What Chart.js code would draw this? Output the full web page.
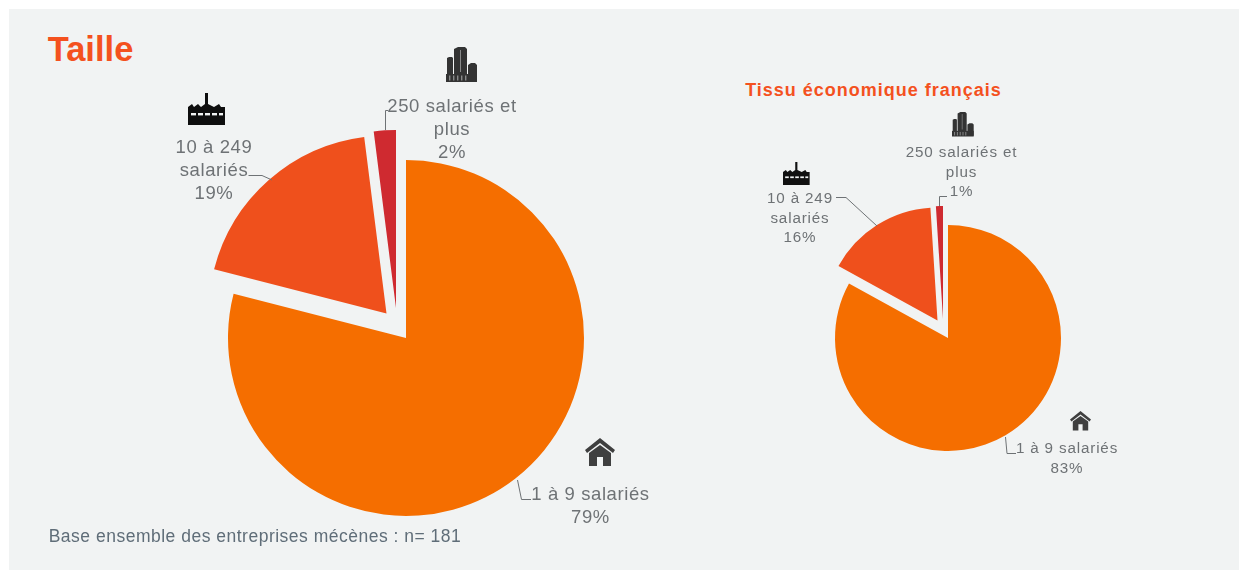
<!DOCTYPE html>
<html><head><meta charset="utf-8">
<script src="https://cdn.jsdelivr.net/npm/chart.js@4"></script>
<style>
html,body{margin:0;padding:0;background:#fff;overflow:hidden}
#panel{position:absolute;left:9px;top:9px;width:1230px;height:561px;background:#f1f3f3}
.c{position:absolute}
.t{position:absolute;text-align:center;white-space:nowrap;font-family:"Liberation Sans",Arial,sans-serif;color:#6e7275;transform:translateX(-50%)}
.big{font-size:18.5px;line-height:23px;letter-spacing:.6px}
.small{font-size:15.2px;line-height:19.5px;letter-spacing:.85px}
svg{position:absolute;left:0;top:0}
</style></head><body>
<div id="panel"></div>
<div class="c" style="left:6px;top:106px;width:800px;height:464px"><canvas id="a" width="800" height="464"></canvas></div>
<div class="c" style="left:657px;top:106px;width:582px;height:464px"><canvas id="b" width="582" height="464"></canvas></div>
<div id="texts"></div>
<svg id="ov" width="1239" height="570" viewBox="0 0 1239 570">
<defs>
<g id="house"><path d="M0 12 L15 0 L30 12 L28 15 L15 5 L2 15 Z"/><path d="M4 15 L15 7 L26 15 V28 H18 V19 H12 V28 H4 Z"/></g>
<g id="factory"><path d="M0 32 V14 L4 11 L6 14 L10 11 L13 14 L17 11 V0 H20 V11 L26 14 L31 11 L33 14 H37 V32 Z"/><g fill="#f1f3f3"><rect x="3" y="20" width="5" height="2.4"/><rect x="10" y="20" width="5" height="2.4"/><rect x="17" y="20" width="5" height="2.4"/><rect x="24" y="20" width="5" height="2.4"/><rect x="31" y="20" width="4" height="2.4"/></g></g>
<g id="towers"><path d="M1 27 V11 L3 10 H6 L7 11 V27 Z"/><path d="M8 34 V2 L12 0 H19 L21 2 V34 Z"/><path d="M22 34 V18 L25 16 H29 L31 18 V34 Z"/><path d="M0 27 H31 V35 H0 Z"/><g fill="#f1f3f3" opacity=".45"><rect x="3" y="28.500" width="1.4" height="5"/><rect x="7" y="28.500" width="1.4" height="5"/><rect x="11" y="28.500" width="1.4" height="5"/><rect x="15" y="28.500" width="1.4" height="5"/><rect x="19" y="28.500" width="1.4" height="5"/><rect x="14" y="3" width="1" height="22"/></g></g>
</defs>
<g fill="none" stroke="#6e7275" stroke-width="1">
<path d="M248.500 175.500 H262 L272 180"/>
<path d="M385.500 130 V110.500 H388"/>
<path d="M517.500 480 L521.500 499.500 H531"/>
<path d="M836 197.500 H846 L877 226"/>
<path d="M939.500 206 V196.500 H947"/>
<path d="M1005.500 437 L1007 453.500 H1016"/>
</g>
<use href="#factory" x="188" y="93" fill="#0e0e0e"/>
<use href="#towers" x="446" y="47" fill="#333"/>
<use href="#house" x="585" y="438" fill="#3f3f3f"/>
<use href="#factory" transform="translate(783 162) scale(.72)" fill="#111"/>
<use href="#towers" transform="translate(952 112) scale(.7)" fill="#333"/>
<use href="#house" transform="translate(1070 411) scale(.7)" fill="#3f3f3f"/>
</svg>
<script>
const categories = ["1 à 9 salariés", "10 à 249 salariés", "250 salariés et plus"];
const mecenes = [79, 19, 2];
const tissu = [83, 16, 1];
const colours = ["#f56e00", "#ef501c", "#cf2a30"];
const titleMain = "Taille";
const titleSide = "Tissu économique français";
const note = "Base ensemble des entreprises mécènes : n= 181";

// moves each exploded slice by its own pixel shift
const shiftSlices = {
  id: "shiftSlices",
  afterDatasetsUpdate(chart, args, opts) {
    chart.getDatasetMeta(0).data.forEach((arc, i) => {
      const s = opts.shifts[i];
      arc.x += s[0];
      arc.y += s[1];
    });
  }
};
function pie(id, values, radius, shifts) {
  new Chart(document.getElementById(id), {
    type: "pie",
    data: { labels: categories, datasets: [{ data: values, backgroundColor: colours, borderWidth: 0, radius: radius }] },
    options: {
      responsive: false, animation: false, events: [],
      layout: { padding: 0 },
      plugins: { legend: { display: false }, tooltip: { enabled: false }, shiftSlices: { shifts: shifts } }
    },
    plugins: [shiftSlices]
  });
}
pie("a", mecenes, 178, [[0, 0], [-19.5, -24.5], [-10, -30]]);
pie("b", tissu, 113, [[0, 0], [-10.5, -17.5], [-5, -19]]);

function text(html, x, y, css, cls) {
  const d = document.createElement("div");
  d.className = "t " + (cls || "");
  d.style.cssText = `left:${x}px;top:${y}px;` + (css || "");
  d.innerHTML = html;
  document.getElementById("texts").appendChild(d);
}
const lab = (parts, v) => parts.join("<br>") + "<br>" + v + "%";
text(titleMain, 90.5, 29, 'font-size:34.5px;font-weight:bold;color:#f4511e;line-height:40px');
text(titleSide, 873.5, 79, 'font-size:18px;font-weight:bold;color:#f4511e;line-height:22px;letter-spacing:1px');
text(note, 255, 526, 'font-size:17.5px;color:#5f6d78;line-height:20px;letter-spacing:.5px');
text(lab(["250 salariés et", "plus"], mecenes[2]), 452, 94, '', 'big');
text(lab(["10 à 249", "salariés"], mecenes[1]), 214, 135, '', 'big');
text(lab(["1 à 9 salariés"], mecenes[0]), 590.5, 482, '', 'big');
text(lab(["250 salariés et", "plus"], tissu[2]), 961.500, 142, '', 'small');
text(lab(["10 à 249", "salariés"], tissu[1]), 800, 188, '', 'small');
text(lab(["1 à 9 salariés"], tissu[0]), 1067, 438, '', 'small');
</script>
</body></html>
